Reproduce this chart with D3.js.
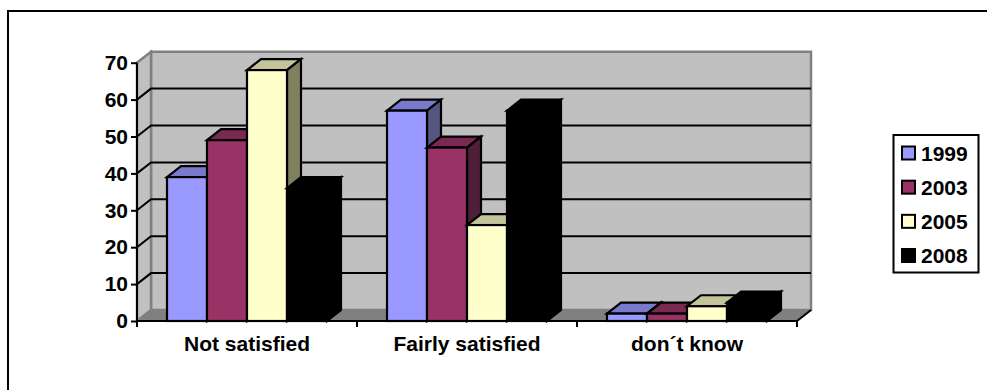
<!DOCTYPE html>
<html>
<head>
<meta charset="utf-8">
<script src="https://cdn.jsdelivr.net/npm/d3@7/dist/d3.min.js"></script>
<style>
  html, body { margin: 0; padding: 0; background: #fff; }
  svg { display: block; }
  text { font-family: "Liberation Sans", Arial, sans-serif; font-weight: bold; fill: #000; }
</style>
</head>
<body>
<svg id="chart" width="987" height="390"></svg>
<script>
const categories = ["Not satisfied", "Fairly satisfied", "don´t know"];
const years = ["1999", "2003", "2005", "2008"];
const values1999 = [39, 57, 2];
const values2003 = [49, 47, 2];
const values2005 = [68, 26, 4];
const values2008 = [36, 57, 5];
const yTicks = [0, 10, 20, 30, 40, 50, 60, 70];

const seriesValues = [values1999, values2003, values2005, values2008];
const frontColors = ["#9999ff", "#993366", "#ffffcc", "#000000"];
const topColors = ["#7a7acc", "#7a2952", "#c4c49c", "#000000"];
const sideColors = ["#55557f", "#4f1f3a", "#80805f", "#000000"];
const fontSize = 21;

const svg = d3.select("#chart");

// Box geometry: front plane plus the oblique offset of the back wall
const depthX = 14, depthY = -11;
const x = d3.scaleBand().domain(categories).range([137, 797]);
const y = d3.scaleLinear().domain([0, 70]).range([321, 62.7]);
// Bars fill 160px of each 220px category, with 30px either side
const inner = d3.scaleBand().domain(years).range([30, 190]);

const poly = pts => pts.map(p => p.join(",")).join(" ");
const x0 = x.range()[0], x1 = x.range()[1];
const yB = y(0), yT = y(70);

// Outer frame, open on the right and at the bottom
svg.append("path")
  .attr("d", "M987,11H8V390")
  .attr("fill", "none").attr("stroke", "#000").attr("stroke-width", 2);

// Back wall, side wall and floor
svg.append("polygon")
  .attr("points", poly([[x0 + depthX, yB + depthY], [x1 + depthX, yB + depthY], [x1 + depthX, yT + depthY], [x0 + depthX, yT + depthY]]))
  .attr("fill", "#c0c0c0").attr("stroke", "#808080").attr("stroke-width", 2.5);
svg.append("polygon")
  .attr("points", poly([[x0, yB], [x0 + depthX, yB + depthY], [x0 + depthX, yT + depthY], [x0, yT]]))
  .attr("fill", "#c0c0c0").attr("stroke", "#808080").attr("stroke-width", 2.5);
svg.append("polygon")
  .attr("points", poly([[x0, yB], [x1, yB], [x1 + depthX, yB + depthY], [x0 + depthX, yB + depthY]]))
  .attr("fill", "#808080");

// Gridlines run across the side wall and the back wall
svg.append("g").selectAll("path")
  .data(yTicks.filter(d => d > 0 && d < 70))
  .join("path")
  .attr("d", d => `M${x0},${y(d)}L${x0 + depthX},${y(d) + depthY}H${x1 + depthX}`)
  .attr("fill", "none").attr("stroke", "#000").attr("stroke-width", 2);
svg.append("path")
  .attr("d", `M${x1 + depthX},${yB + depthY}L${x1},${yB}`)
  .attr("fill", "none").attr("stroke", "#000").attr("stroke-width", 2);

// Bars, painted left to right so each one overlaps its neighbour's side face
const barLayer = svg.append("g")
  .attr("stroke", "#000").attr("stroke-width", 2.2).attr("stroke-linejoin", "miter");
categories.forEach((cat, c) => {
  years.forEach((yr, s) => {
    const v = seriesValues[s][c];
    const l = x(cat) + inner(yr), r = l + inner.bandwidth();
    const t = y(v), b = y(0);
    barLayer.append("polygon")
      .attr("points", poly([[l, t], [r, t], [r + depthX, t + depthY], [l + depthX, t + depthY]]))
      .attr("fill", topColors[s]);
    barLayer.append("polygon")
      .attr("points", poly([[r, t], [r + depthX, t + depthY], [r + depthX, b + depthY], [r, b]]))
      .attr("fill", sideColors[s]);
    barLayer.append("rect")
      .attr("x", l).attr("y", t).attr("width", r - l).attr("height", b - t)
      .attr("fill", frontColors[s]);
  });
});

// Value axis
const yAxis = svg.append("g").attr("transform", `translate(${x0},0)`)
  .call(d3.axisLeft(y).tickValues(yTicks).tickSize(6).tickPadding(3));
yAxis.select(".domain").attr("stroke", "#000").attr("stroke-width", 2).attr("d", `M0,${yT}V${yB}`);
yAxis.selectAll(".tick line").attr("stroke", "#000").attr("stroke-width", 2);
yAxis.selectAll("text").attr("font-size", fontSize).style("font-family", '"Liberation Sans", Arial, sans-serif');

// Category axis
const xAxis = svg.append("g").attr("transform", `translate(0,${yB})`);
xAxis.append("path").attr("d", `M${x0},0H${x1}`).attr("stroke", "#000").attr("stroke-width", 2);
xAxis.selectAll("line").data([...categories.map(d => x(d)), x1]).join("line")
  .attr("x1", d => d).attr("x2", d => d).attr("y1", 0).attr("y2", 6)
  .attr("stroke", "#000").attr("stroke-width", 2);
xAxis.selectAll("text").data(categories).join("text")
  .attr("x", d => x(d) + x.bandwidth() / 2).attr("y", 30)
  .attr("text-anchor", "middle").attr("font-size", fontSize)
  .text(d => d);

// Legend
const legend = svg.append("g");
legend.append("rect").attr("x", 893.5).attr("y", 135).attr("width", 85).attr("height", 137.5)
  .attr("fill", "#fff").attr("stroke", "#000").attr("stroke-width", 2);
const legendY = d3.scalePoint().domain(years).range([153, 255.5]);
years.forEach((yr, s) => {
  legend.append("rect").attr("x", 902).attr("y", legendY(yr) - 6.5).attr("width", 13).attr("height", 13)
    .attr("fill", frontColors[s]).attr("stroke", "#000").attr("stroke-width", 2);
  legend.append("text").attr("x", 921).attr("y", legendY(yr) + 7.5)
    .attr("font-size", fontSize).text(yr);
});
</script>
</body>
</html>
